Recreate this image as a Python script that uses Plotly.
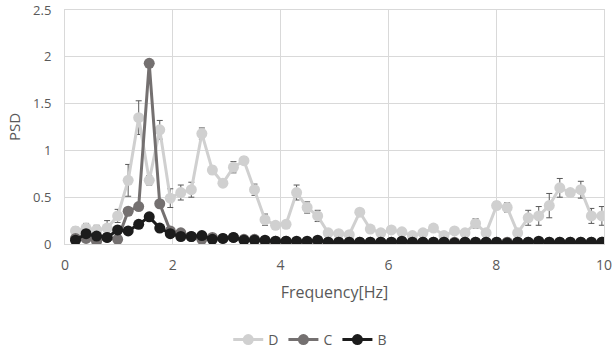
import plotly.graph_objects as go

freq = [round(k * 0.1953125, 4) for k in range(1, 52)]

D = [0.14, 0.17, 0.15, 0.17, 0.30, 0.68, 1.35, 0.68, 1.22, 0.49,
     0.55, 0.58, 1.18, 0.79, 0.65, 0.82, 0.89, 0.58, 0.26, 0.20,
     0.21, 0.55, 0.39, 0.30, 0.12, 0.11, 0.10, 0.34, 0.16, 0.12,
     0.15, 0.13, 0.09, 0.12, 0.17, 0.09, 0.14, 0.12, 0.22, 0.12,
     0.41, 0.39, 0.12, 0.28, 0.30, 0.41, 0.60, 0.55, 0.58, 0.30, 0.30]
D_err = [0.04, 0.05, 0.05, 0.08, 0.07, 0.17, 0.18, 0.05, 0.10, 0.10,
         0.08, 0.08, 0.06, 0.04, 0.02, 0.06, 0.04, 0.06, 0.06, 0.02,
         0.04, 0.08, 0.06, 0.06, 0.03, 0.03, 0.02, 0.03, 0.02, 0.02,
         0.02, 0.02, 0.01, 0.02, 0.02, 0.01, 0.02, 0.02, 0.05, 0.02,
         0.04, 0.05, 0.02, 0.08, 0.10, 0.13, 0.10, 0.03, 0.09, 0.08, 0.10]

C = [0.06, 0.06, 0.03, 0.07, 0.05, 0.35, 0.40, 1.93, 0.43, 0.14,
     0.12, 0.08, 0.05, 0.07, 0.06, 0.07, 0.05, 0.05, 0.03, 0.03,
     0.03, 0.02, 0.02, 0.03, 0.02, 0.02, 0.02, 0.02, 0.02, 0.02,
     0.02, 0.02, 0.02, 0.02, 0.02, 0.02, 0.02, 0.02, 0.02, 0.02,
     0.02, 0.02, 0.02, 0.02, 0.02, 0.02, 0.02, 0.02, 0.02, 0.02, 0.02]

B = [0.04, 0.11, 0.085, 0.07, 0.15, 0.14, 0.21, 0.29, 0.17, 0.11,
     0.08, 0.08, 0.09, 0.05, 0.06, 0.07, 0.04, 0.04, 0.04, 0.03,
     0.03, 0.03, 0.03, 0.04, 0.02, 0.02, 0.02, 0.02, 0.02, 0.02,
     0.02, 0.03, 0.02, 0.02, 0.02, 0.02, 0.01, 0.02, 0.02, 0.02,
     0.02, 0.01, 0.02, 0.02, 0.03, 0.02, 0.02, 0.02, 0.02, 0.02, 0.02]

y_ticks = [0, 0.5, 1, 1.5, 2, 2.5]
y_labels = ["0", "0.5", "1", "1.5", "2", "2.5"]

series = [("D", D, D_err, "#d0d0d0"), ("C", C, None, "#747070"), ("B", B, None, "#1c1c1c")]

fig = go.Figure()
for name, vals, err, col in series:
    kw = {}
    if err is not None:
        kw["error_y"] = dict(type="data", array=err, visible=True,
                             color="#595959", thickness=1, width=3)
    fig.add_trace(go.Scatter(x=freq, y=vals, name=name, mode="lines+markers",
                             line=dict(color=col, width=3),
                             marker=dict(color=col, size=11), **kw))

font_col = "#595959"
fig.update_layout(
    width=616, height=354,
    margin=dict(l=65, r=12, t=10, b=110, autoexpand=False),
    paper_bgcolor="white", plot_bgcolor="white",
    font=dict(family="Open Sans", size=14, color=font_col),
    showlegend=True,
    legend=dict(orientation="h", x=0.455, xanchor="center", y=-0.41, yanchor="middle",
                font=dict(size=14, color=font_col), itemwidth=30),
    xaxis=dict(range=[0, 10], dtick=2, showgrid=True, gridcolor="#d9d9d9",
               zeroline=False, showline=True, linecolor="#d9d9d9", mirror=True,
               ticklabelstandoff=8,
               title=dict(text="Frequency[Hz]", font=dict(size=16, color=font_col), standoff=14),
               tickfont=dict(size=14, color=font_col)),
    yaxis=dict(range=[0, 2.5], tickmode="array", tickvals=y_ticks, ticktext=y_labels,
               showgrid=True, gridcolor="#d9d9d9", ticklabeloverflow="allow",
               zeroline=False, showline=True, linecolor="#d9d9d9", mirror=True,
               ticklabelstandoff=10,
               title=dict(text="PSD", font=dict(size=15, color=font_col), standoff=8),
               tickfont=dict(size=13, color=font_col)),
)

fig.write_html("out.html")
